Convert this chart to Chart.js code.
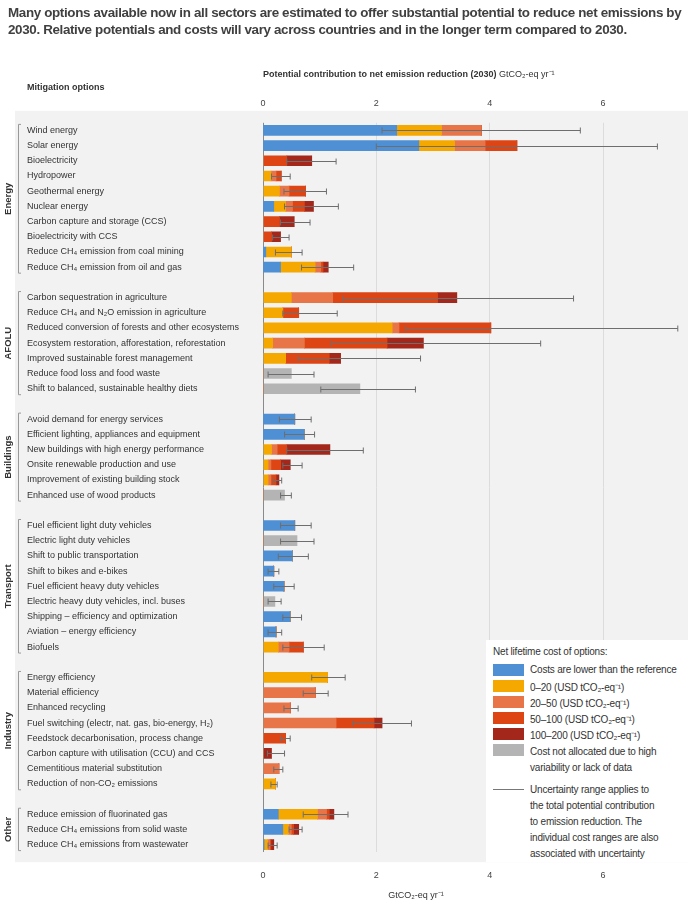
<!DOCTYPE html>
<html><head><meta charset="utf-8">
<script src="https://cdn.jsdelivr.net/npm/chart.js@4.4.1/dist/chart.umd.min.js"></script>
<style>
body{margin:0;background:#fff;width:688px;height:901px;overflow:hidden;position:relative;font-family:"Liberation Sans",sans-serif}
#title{position:absolute;left:8px;top:4px;width:678px;font:bold 13.4px "Liberation Sans",sans-serif;letter-spacing:-0.35px;color:#404040;line-height:17px;z-index:2}
#wrap{position:absolute;left:0;top:0;width:688px;height:901px}
#legend{position:absolute;left:486px;top:640px;width:202px;height:222px;background:#fff;z-index:2;font-size:10px;letter-spacing:-0.2px;color:#333;white-space:nowrap}
#legend .it{position:absolute;left:7px;display:flex;align-items:flex-start}
#legend .sw{width:31px;height:12px;margin-right:6px;flex:none}
</style></head><body>
<div id="title">Many options available now in all sectors are estimated to offer substantial potential to reduce net emissions by 2030. Relative potentials and costs will vary across countries and in the longer term compared to 2030.</div>
<div id="wrap"><canvas id="c"></canvas></div>
<div id="legend">
  <div class="it" style="top:6px">Net lifetime cost of options:</div>
  <div class="it" style="top:24px"><span class="sw" style="background:#4f8fd3"></span>Costs are lower than the reference</div>
  <div class="it" style="top:40px"><span class="sw" style="background:#f5a800"></span>0–20 (USD tCO₂-eq⁻¹)</div>
  <div class="it" style="top:56px"><span class="sw" style="background:#e87547"></span>20–50 (USD tCO₂-eq⁻¹)</div>
  <div class="it" style="top:72px"><span class="sw" style="background:#dd4515"></span>50–100 (USD tCO₂-eq⁻¹)</div>
  <div class="it" style="top:88px"><span class="sw" style="background:#a3271a"></span>100–200 (USD tCO₂-eq⁻¹)</div>
  <div class="it" style="top:104px;line-height:16px"><span class="sw" style="background:#b4b4b4"></span>Cost not allocated due to high<br>variability or lack of data</div>
  <div class="it" style="top:142px;line-height:16px"><span class="sw" style="height:1px;background:#777;margin-top:7px"></span>Uncertainty range applies to<br>the total potential contribution<br>to emission reduction. The<br>individual cost ranges are also<br>associated with uncertainty</div>
</div>
<script>
const labels = ['Wind energy','Solar energy','Bioelectricity','Hydropower','Geothermal energy','Nuclear energy','Carbon capture and storage (CCS)','Bioelectricity with CCS','Reduce CH₄ emission from coal mining','Reduce CH₄ emission from oil and gas','',
'Carbon sequestration in agriculture','Reduce CH₄ and N₂O emission in agriculture','Reduced conversion of forests and other ecosystems','Ecosystem restoration, afforestation, reforestation','Improved sustainable forest management','Reduce food loss and food waste','Shift to balanced, sustainable healthy diets',' ',
'Avoid demand for energy services','Efficient lighting, appliances and equipment','New buildings with high energy performance','Onsite renewable production and use','Improvement of existing building stock','Enhanced use of wood products','  ',
'Fuel efficient light duty vehicles','Electric light duty vehicles','Shift to public transportation','Shift to bikes and e-bikes','Fuel efficient heavy duty vehicles','Electric heavy duty vehicles, incl. buses','Shipping – efficiency and optimization','Aviation – energy efficiency','Biofuels','   ',
'Energy efficiency','Material efficiency','Enhanced recycling','Fuel switching (electr, nat. gas, bio-energy, H₂)','Feedstock decarbonisation, process change','Carbon capture with utilisation (CCU) and CCS','Cementitious material substitution','Reduction of non-CO₂ emissions','    ',
'Reduce emission of fluorinated gas','Reduce CH₄ emissions from solid waste','Reduce CH₄ emissions from wastewater'];
const groups = [['Energy',0,9],['AFOLU',11,17],['Buildings',19,24],['Transport',26,34],['Industry',36,43],['Other',45,47]];
const lowerCost = [2.36,2.75,0,0,0,0.19,0,0,0.05,0.31,null, 0,0,0,0,0,0,0,null, 0.56,0.73,0,0,0,0,null, 0.56,0,0.52,0.19,0.37,0,0.48,0.23,0,null, 0,0,0,0,0,0,0,0,null, 0.27,0.35,0.02];
const cost0_20 = [0.79,0.63,0,0.14,0.29,0.21,0,0,0.45,0.61,null, 0.5,0.35,2.28,0.17,0.4,0,0,null, 0,0,0.15,0.09,0.09,0,null, 0,0,0,0,0,0,0,0,0.27,null, 1.14,0,0,0,0,0,0,0.22,null, 0.69,0.10,0.06];
const cost20_50 = [0.70,0.54,0,0.09,0.17,0.12,0,0,0,0.10,null, 0.73,0,0.12,0.56,0,0,0,null, 0,0,0.10,0.05,0.05,0,null, 0,0,0,0,0,0,0,0,0.19,null, 0,0.92,0.48,1.29,0,0,0.28,0,null, 0.16,0.05,0.04];
const cost50_100 = [0,0.56,0.42,0.09,0.29,0.21,0.29,0.15,0,0.04,null, 1.85,0.28,1.62,1.46,0.77,0,0,null, 0,0,0.17,0.17,0.09,0,null, 0,0,0,0,0,0,0,0,0.25,null, 0,0,0,0.67,0.4,0,0,0,null, 0.05,0.04,0.02];
const cost100_200 = [0,0,0.44,0,0,0.16,0.26,0.16,0,0.09,null, 0.34,0,0,0.64,0.2,0,0,null, 0,0,0.76,0.17,0.05,0,null, 0,0,0,0,0,0,0,0,0,null, 0,0,0,0.14,0,0.15,0,0,null, 0.08,0.09,0.05];
const notAllocated = [0,0,0,0,0,0,0,0,0,0,null, 0,0,0,0,0,0.5,1.71,null, 0,0,0,0,0,0.38,null, 0,0.6,0,0,0,0.21,0,0,0,null, 0,0,0,0,0,0,0,0,null, 0,0,0];
const errLow = [2.1,2.0,0.42,0.15,0.37,0.38,0.31,0.17,0.22,0.68,null, 1.41,0.35,2.52,1.21,0.62,0.09,1.02,null, 0.29,0.38,0.42,0.35,0.19,0.31,null, 0.31,0.31,0.27,0.09,0.19,0.09,0.35,0.09,0.35,null, 0.86,0.71,0.37,1.58,0.31,0.08,0.19,0.14,null, 0.71,0.46,0.09];
const errHigh = [5.6,6.96,1.29,0.48,1.12,1.33,0.83,0.46,0.69,1.6,null, 5.48,1.31,7.32,4.9,2.78,0.9,2.69,null, 0.85,0.91,1.77,0.69,0.33,0.5,null, 0.85,0.9,0.8,0.28,0.55,0.32,0.68,0.33,1.08,null, 1.45,1.15,0.62,2.62,0.48,0.38,0.35,0.25,null, 1.5,0.69,0.25];
const xTicks = [0,2,4,6];

const FONT = '"Liberation Sans",sans-serif';
const mk = (label, data, color) => ({label, data, backgroundColor: color, barThickness: 10, xAxisID: 'x', stack: 's'});

const bgPlugin = {
  id: 'bg',
  beforeDraw(ch) {
    const c = ch.ctx, a = ch.chartArea;
    c.save(); c.fillStyle = '#f2f2f2';
    c.fillRect(15, a.top - 12, 688 - 15, a.bottom - a.top + 22);
    c.restore();
  },
  afterDraw(ch) {
    const c = ch.ctx, x = ch.scales.x, y = ch.scales.y;
    c.save();
    // error bars
    c.strokeStyle = '#6e6e6e'; c.lineWidth = 1;
    errLow.forEach((lo, i) => {
      if (lo == null) return;
      const py = Math.round(y.getPixelForValue(i)) + 0.5;
      const x1 = x.getPixelForValue(lo), x2 = x.getPixelForValue(errHigh[i]);
      c.beginPath(); c.moveTo(x1, py); c.lineTo(x2, py);
      c.moveTo(x1, py - 3); c.lineTo(x1, py + 3);
      c.moveTo(x2, py - 3); c.lineTo(x2, py + 3); c.stroke();
    });
    // group brackets + labels
    c.strokeStyle = '#999'; c.fillStyle = '#333';
    c.font = 'bold 9.5px ' + FONT; c.textAlign = 'center'; c.textBaseline = 'middle';
    groups.forEach(([name, s, e]) => {
      const t = y.getPixelForValue(s) - 6, b = y.getPixelForValue(e) + 6;
      c.beginPath(); c.moveTo(21, t); c.lineTo(18.5, t); c.lineTo(18.5, b); c.lineTo(21, b); c.stroke();
      c.save(); c.translate(8, (t + b) / 2); c.rotate(-Math.PI / 2); c.fillText(name, 0, 0); c.restore();
    });
    // headings
    c.textAlign = 'left'; c.textBaseline = 'alphabetic';
    c.font = 'bold 9px ' + FONT; c.fillText('Mitigation options', 27, 90);
    const px0 = x.getPixelForValue(0);
    const head = 'Potential contribution to net emission reduction (2030)';
    c.fillText(head, px0, 77);
    const w = c.measureText(head).width;
    c.font = '9px ' + FONT; c.fillText(' GtCO₂-eq yr⁻¹', px0 + w, 77);
    c.textAlign = 'center';
    c.fillText('GtCO₂-eq yr⁻¹', x.getPixelForValue(2.7), 898);
    c.restore();
  }
};

new Chart(document.getElementById('c'), {
  type: 'bar',
  data: { labels, datasets: [
    mk('Costs are lower than the reference', lowerCost, '#4f8fd3'),
    mk('0–20', cost0_20, '#f5a800'),
    mk('20–50', cost20_50, '#e87547'),
    mk('50–100', cost50_100, '#dd4515'),
    mk('100–200', cost100_200, '#a3271a'),
    mk('Cost not allocated', notAllocated, '#b4b4b4')
  ]},
  options: {
    indexAxis: 'y', responsive: true, maintainAspectRatio: false, animation: false,
    layout: { padding: { left: 27, top: 84, bottom: 2, right: 0 } },
    plugins: { legend: { display: false }, tooltip: { enabled: false } },
    scales: {
      x: { type: 'linear', position: 'bottom', min: 0, max: 7.5, stacked: true,
        afterBuildTicks: s => { s.ticks = xTicks.map(v => ({value: v})); },
        ticks: { color: '#444', font: { family: FONT, size: 9 }, padding: 18 },
        grid: { color: ctx => ctx.tick.value === 0 ? '#8a8a8a' : '#dcdcdc', drawTicks: false },
        border: { display: false } },
      x2: { type: 'linear', position: 'top', min: 0, max: 7.5,
        afterBuildTicks: s => { s.ticks = xTicks.map(v => ({value: v})); },
        ticks: { color: '#444', font: { family: FONT, size: 9 }, padding: 14 },
        grid: { display: false, drawTicks: false }, border: { display: false } },
      y: { stacked: true,
        afterFit: s => { s.width = 236; },
        ticks: { crossAlign: 'far', autoSkip: false, color: '#333', font: { family: FONT, size: 9 } },
        grid: { display: false }, border: { display: false } }
    }
  },
  plugins: [bgPlugin]
});
</script>
</body></html>
